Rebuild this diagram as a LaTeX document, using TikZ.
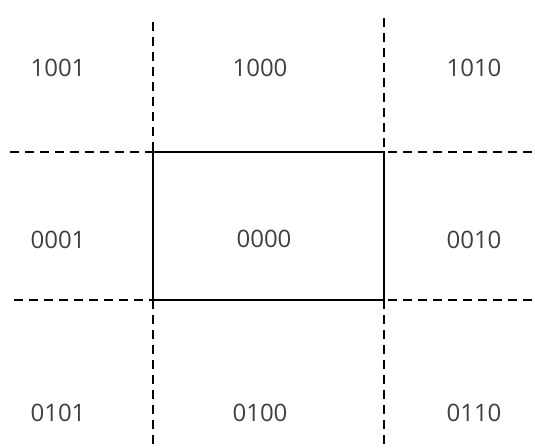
\documentclass[tikz,border=0pt]{standalone}
\usepackage{fontspec}
\setmainfont{Open Sans}
\begin{document}
\begin{tikzpicture}[x=1pt,y=-1pt,
  code/.style={font=\fontsize{24}{24}\selectfont, text=black!75, inner sep=0pt},
  guide/.style={line width=2pt, dash pattern=on 9pt off 6pt},
  window/.style={draw, line width=2.2pt, minimum width=231pt, minimum height=148pt, inner sep=0pt, outer sep=0pt}]
\useasboundingbox (0,0) rectangle (535,447);
\node[window, anchor=north west] (win) at (153,152) {};
\node[code] (c0000) at (264,239) {0000};
% vertical guides
\coordinate (lt) at (153,22);
\coordinate (lb) at (153,447);
\coordinate (rt) at (384,18);
\coordinate (rb) at (384,447);
\draw[guide] (lt) -- (win.north west);
\draw[guide] (win.south west) -- (lb);
\draw[guide] (rt) -- (win.north east);
\draw[guide] (win.south east) -- (rb);
% horizontal guides
\coordinate (tl) at (10,152);
\coordinate (tr) at (535,152);
\coordinate (bl) at (14,300);
\coordinate (br) at (535,300);
\draw[guide] (tl) -- (win.north west);
\draw[guide] ([xshift=4pt]win.north east) -- (tr);
\draw[guide] (bl) -- (win.south west);
\draw[guide] ([xshift=4pt]win.south east) -- (br);
% labels
\node[code] (c1001) at (58,68) {1001};
\node[code] (c1000) at (260,68) {1000};
\node[code] (c1010) at (474,68) {1010};
\node[code] (c0001) at (58,240) {0001};
\node[code] (c0010) at (474,240) {0010};
\node[code] (c0101) at (58,413) {0101};
\node[code] (c0100) at (260,413) {0100};
\node[code] (c0110) at (474,413) {0110};
\end{tikzpicture}
\end{document}
